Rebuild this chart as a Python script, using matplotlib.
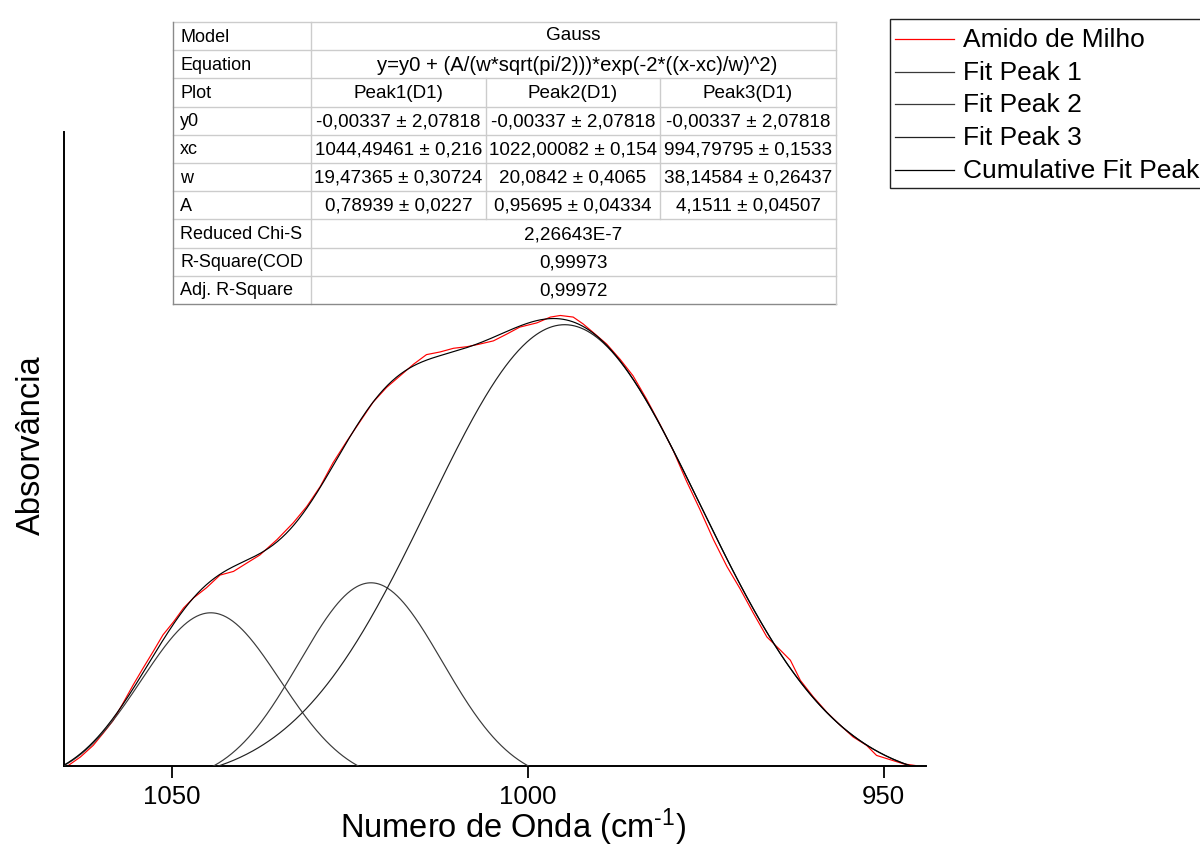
import numpy as np
import matplotlib
matplotlib.use("Agg")
import matplotlib.pyplot as plt
from matplotlib.lines import Line2D
from matplotlib.patches import Rectangle

plt.rcParams['font.family'] = ['Liberation Sans', 'DejaVu Sans']
plt.rcParams['mathtext.default'] = 'regular'

# ---------------- data ----------------
wavenumber = [1064.7, 1062.8, 1061.0, 1059.6, 1058.2, 1056.8, 1055.4, 1054.0, 1052.6, 1051.2,
              1049.7, 1048.3, 1046.9, 1045.1, 1043.2, 1041.3, 1039.4, 1037.6, 1035.2, 1032.9,
              1031.0, 1029.1, 1027.3, 1025.4, 1023.5, 1021.7, 1019.8, 1017.9, 1016.0, 1014.2,
              1012.3, 1010.4, 1008.5, 1006.7, 1004.8, 1002.9, 1001.1, 998.7, 996.8, 995.4,
              993.6, 992.2, 990.8, 988.9, 987.0, 985.2, 983.3, 981.4, 979.5, 977.7,
              975.8, 973.9, 972.0, 970.2, 968.3, 966.4, 964.5, 963.1, 961.7, 959.9,
              958.0, 956.1, 954.3, 952.4, 951.0, 949.1, 947.2, 945.6]
absorbance = [-0.0001, 0.0017, 0.0039, 0.0062, 0.0086, 0.0119, 0.0153, 0.0185, 0.0216, 0.0248,
              0.0273, 0.0299, 0.0318, 0.0337, 0.0361, 0.0368, 0.0384, 0.0399, 0.0428, 0.0460,
              0.0491, 0.0529, 0.0574, 0.0614, 0.0652, 0.0688, 0.0716, 0.0738, 0.0760, 0.0778,
              0.0783, 0.0790, 0.0793, 0.0798, 0.0804, 0.0817, 0.0830, 0.0838, 0.0849, 0.0852,
              0.0849, 0.0836, 0.0820, 0.0798, 0.0769, 0.0738, 0.0694, 0.0646, 0.0595, 0.0539,
              0.0485, 0.0428, 0.0377, 0.0336, 0.0289, 0.0244, 0.0219, 0.0200, 0.0162, 0.0131,
              0.0102, 0.0077, 0.0055, 0.0039, 0.0020, 0.0012, 0.0004, 0.0001]

model_name = "Gauss"
equation = "y=y0 + (A/(w*sqrt(pi/2)))*exp(-2*((x-xc)/w)^2)"
peak_labels = ["Peak1(D1)", "Peak2(D1)", "Peak3(D1)"]
y0 = -0.00337
y0_err = 2.07818
xc = [1044.49461, 1022.00082, 994.79795]
xc_err = [0.216, 0.154, 0.1533]
w = [19.47365, 20.0842, 38.14584]
w_err = [0.30724, 0.4065, 0.26437]
A = [0.78939, 0.95695, 4.1511]
A_err = [0.0227, 0.04334, 0.04507]
reduced_chi = "2,26643E-7"
r_square = 0.99973
adj_r_square = 0.99972

legend_labels = ["Amido de Milho", "Fit Peak 1", "Fit Peak 2", "Fit Peak 3", "Cumulative Fit Peak"]
xticks = [1050, 1000, 950]

# ---------------- figure ----------------
W, H = 1200, 847
fig = plt.figure(figsize=(12, 8.47), dpi=100)
fx = lambda px: px / W
fy = lambda py: 1 - py / H

ax = fig.add_axes([fx(64), fy(766), fx(925.7) - fx(64), fy(132) - fy(766)])

def gauss(x, c, wd, a):
    return a / (wd * np.sqrt(np.pi / 2)) * np.exp(-2 * ((x - c) / wd) ** 2)

xg = np.linspace(1065.1, 946.0, 800)
peak_colors = ['#3a3a3a', '#3a3a3a', '#222222']
ax.plot(wavenumber, absorbance, color='#ff0000', lw=0.85, zorder=2)
cum = np.full_like(xg, y0)
for i in range(3):
    g = gauss(xg, xc[i], w[i], A[i])
    cum += g
    ax.plot(xg, y0 + g, color=peak_colors[i], lw=0.85, zorder=3)
ax.plot(xg, cum, color='black', lw=0.85, zorder=3)

ax.set_xlim(1065.1, 944.1)
ax.set_ylim(0, 0.1199)
ax.set_xticks(xticks)
ax.set_xticklabels([str(t) for t in xticks])
ax.set_yticks([])
ax.spines['top'].set_visible(False)
ax.spines['right'].set_visible(False)
for s in ['left', 'bottom']:
    ax.spines[s].set_linewidth(1.4)
ax.tick_params(axis='x', direction='out', length=8.5, width=1.3, labelsize=18.5, pad=5)

fig.text(fx(513), fy(838), "Numero de Onda (cm$^{\u20101}$)",
         fontsize=23.5, ha='center', va='baseline')
fig.text(fx(31), fy(445), "Absorvância", fontsize=23.5, rotation=90, ha='center', va='center')

# ---------------- table ----------------
tl, tr = 173, 836
c1, c2, c3 = 311, 486, 660
top = 22
rh = 28.2
rows_y = [top + rh * k for k in range(11)]
inner = '#cccccc'
outer = '#8a8a8a'

def hline(x0, x1, y, col, lw=1.0):
    fig.add_artist(Line2D([fx(x0), fx(x1)], [fy(y), fy(y)], color=col, lw=lw, transform=fig.transFigure))

def vline(x, y0_, y1_, col, lw=1.0):
    fig.add_artist(Line2D([fx(x), fx(x)], [fy(y0_), fy(y1_)], color=col, lw=lw, transform=fig.transFigure))

for k in range(1, 10):
    hline(tl, tr, rows_y[k], inner)
vline(c1, rows_y[0], rows_y[10], inner)
vline(c2, rows_y[2], rows_y[7], inner)
vline(c3, rows_y[2], rows_y[7], inner)
hline(tl, tr, rows_y[0], inner)
hline(tl, tr, rows_y[10], outer)
vline(tl, rows_y[0], rows_y[10], outer)
vline(tr, rows_y[0], rows_y[10], inner)

def fmt(v):
    return str(v).replace('.', ',')

row_labels = ["Model", "Equation", "Plot", "y0", "xc", "w", "A",
              "Reduced Chi-S", "R-Square(COD", "Adj. R-Square"]
lfs = 13.0
tfs = 13.6
for k, lab in enumerate(row_labels):
    yc = (rows_y[k] + rows_y[k + 1]) / 2
    fig.text(fx(180), fy(yc + 1), lab, fontsize=lfs, ha='left', va='center')

mid_all = (c1 + tr) / 2
col_centers = [(c1 + c2) / 2, (c2 + c3) / 2, (c3 + tr) / 2]

def rc(k):
    return fy((rows_y[k] + rows_y[k + 1]) / 2 + 1)

fig.text(fx(mid_all), fy(rows_y[0] + 13), model_name, fontsize=tfs, ha='center', va='center')
fig.text(fx(mid_all + 4), rc(1), equation, fontsize=14.6, ha='center', va='center')
for i in range(3):
    cx = fx(col_centers[i])
    fig.text(cx, rc(2), peak_labels[i], fontsize=tfs, ha='center', va='center')
    fig.text(cx, rc(3), f"{fmt(y0)} ± {fmt(y0_err)}", fontsize=tfs, ha='center', va='center')
    fig.text(cx, rc(4), f"{fmt(xc[i])} ± {fmt(xc_err[i])}", fontsize=tfs, ha='center', va='center')
    fig.text(cx, rc(5), f"{fmt(w[i])} ± {fmt(w_err[i])}", fontsize=tfs, ha='center', va='center')
    fig.text(cx, rc(6), f"{fmt(A[i])} ± {fmt(A_err[i])}", fontsize=tfs, ha='center', va='center')
fig.text(fx(mid_all), rc(7), reduced_chi, fontsize=tfs, ha='center', va='center')
fig.text(fx(mid_all), rc(8), fmt(r_square), fontsize=tfs, ha='center', va='center')
fig.text(fx(mid_all), rc(9), fmt(adj_r_square), fontsize=tfs, ha='center', va='center')

# ---------------- legend ----------------
fig.add_artist(Rectangle((fx(890), fy(188)), fx(1240) - fx(890), fy(19) - fy(188),
                         transform=fig.transFigure, facecolor='white', edgecolor='#222222', lw=1.0))
leg_colors = ['#ff0000'] + peak_colors + ['black']
for i, lab in enumerate(legend_labels):
    yy = 39 + 32.75 * i
    fig.add_artist(Line2D([fx(895), fx(954)], [fy(yy), fy(yy)], color=leg_colors[i], lw=0.9,
                          transform=fig.transFigure))
    fig.text(fx(963), fy(yy + 1), lab, fontsize=19, ha='left', va='center')

fig.savefig("out.png", dpi=100)
